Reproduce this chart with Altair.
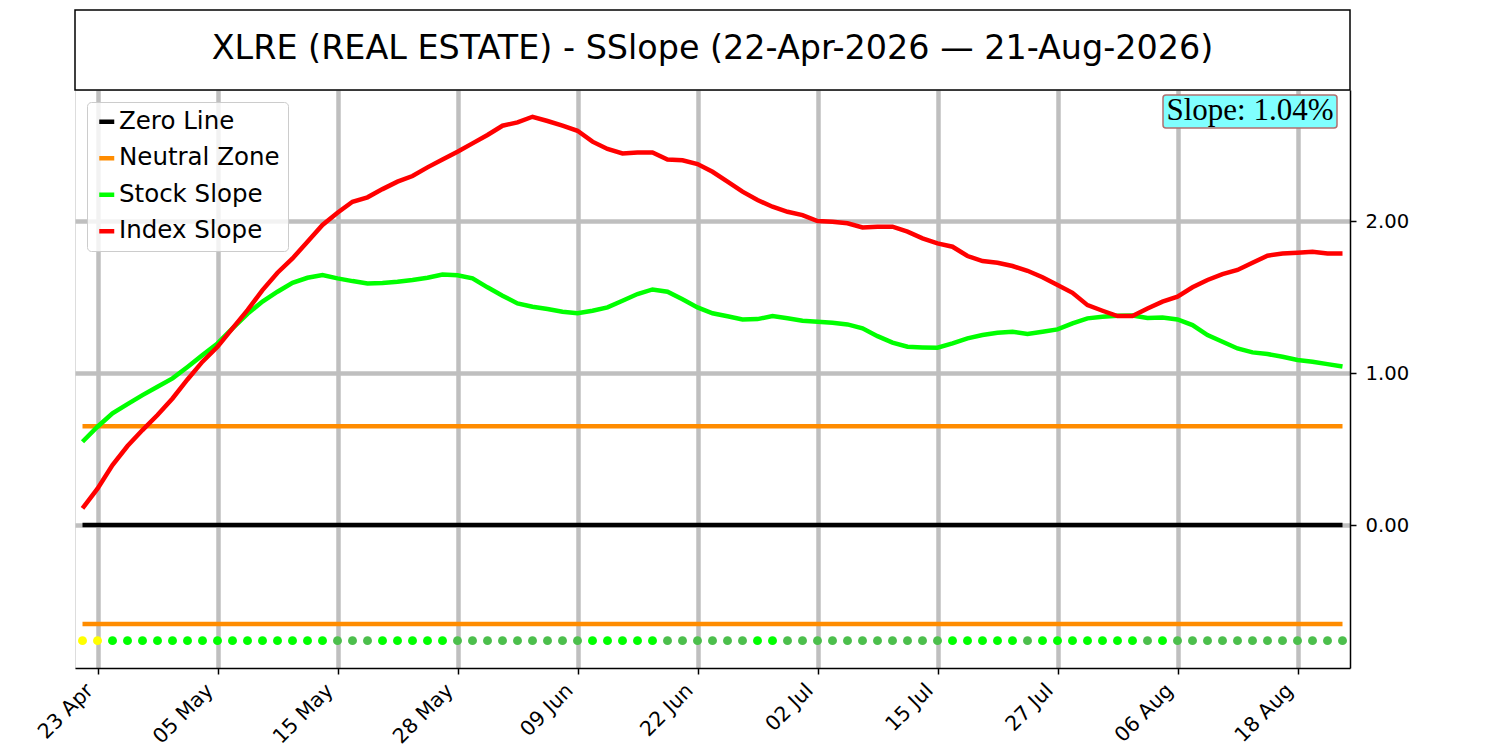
import altair as alt
import pandas as pd

# ---------------- data ----------------
TITLE = "XLRE (REAL ESTATE) - SSlope (22-Apr-2026 — 21-Aug-2026)"
SLOPE_LABEL = "Slope: 1.04%"

stock_slope = [
    0.548, 0.647, 0.735, 0.796, 0.855, 0.910, 0.965, 1.040, 1.118, 1.195,
    1.294, 1.390, 1.470, 1.535, 1.594, 1.627, 1.645, 1.623, 1.605, 1.590,
    1.592, 1.600, 1.612, 1.627, 1.648, 1.643, 1.623, 1.564, 1.509, 1.458,
    1.436, 1.421, 1.403, 1.393, 1.410, 1.432, 1.476, 1.520, 1.550, 1.535,
    1.485, 1.432, 1.393, 1.374, 1.353, 1.355, 1.375, 1.360, 1.344, 1.338,
    1.331, 1.320, 1.294, 1.243, 1.200, 1.173, 1.169, 1.167, 1.195, 1.228,
    1.250, 1.265, 1.272, 1.257, 1.272, 1.287, 1.327, 1.360, 1.371, 1.377,
    1.379, 1.362, 1.366, 1.353, 1.316, 1.250, 1.206, 1.162, 1.136, 1.125,
    1.107, 1.086, 1.075, 1.059, 1.043,
]

index_slope = [
    0.110, 0.240, 0.395, 0.520, 0.625, 0.724, 0.833, 0.958, 1.075, 1.173,
    1.294, 1.414, 1.546, 1.660, 1.754, 1.864, 1.974, 2.055, 2.127, 2.156,
    2.210, 2.259, 2.296, 2.353, 2.405, 2.456, 2.511, 2.566, 2.627, 2.649,
    2.686, 2.658, 2.627, 2.594, 2.522, 2.474, 2.445, 2.451, 2.451, 2.405,
    2.400, 2.375, 2.324, 2.260, 2.193, 2.138, 2.094, 2.061, 2.039, 2.000,
    1.995, 1.985, 1.958, 1.963, 1.963, 1.930, 1.886, 1.853, 1.831, 1.770,
    1.737, 1.726, 1.704, 1.673, 1.630, 1.579, 1.528, 1.447, 1.410, 1.375,
    1.375, 1.425, 1.470, 1.502, 1.564, 1.612, 1.651, 1.678, 1.726, 1.772,
    1.787, 1.792, 1.798, 1.787, 1.787,
]

# state of each day's marker: N = neutral, U = rising, D = falling
dot_state = (
    ["N"] * 2 + ["U"] * 15 + ["D"] * 3 + ["U"] * 5 + ["D"] * 9 + ["U"] * 5
    + ["D"] * 6 + ["U"] * 2 + ["D"] * 11 + ["U"] * 5 + ["D"] * 1 + ["U"] * 7
    + ["D"] * 1 + ["U"] * 1 + ["D"] * 12
)

tick_idx = [1, 9, 17, 25, 33, 41, 49, 57, 65, 73, 81]
tick_labels = ["23 Apr", "05 May", "15 May", "28 May", "09 Jun", "22 Jun",
               "02 Jul", "15 Jul", "27 Jul", "06 Aug", "18 Aug"]
y_ticks = [0, 1, 2]

zero_level = 0.0
neutral_band = 0.65
dot_level = -0.76
x_domain = [-0.5, 84.5]
y_domain = [-0.94, 2.862]

series_names = ["Zero Line", "Neutral Zone", "Stock Slope", "Index Slope"]
series_colors = ["#000000", "#ff8c00", "#00ff00", "#ff0000"]
state_names = ["N", "U", "D"]
state_colors = ["#ffff00", "#00ff00", "#4cbf4c"]

# ---------------- frames ----------------
n = len(stock_slope)
idx = list(range(n))
lines_df = pd.DataFrame({
    "idx": idx * 2,
    "value": stock_slope + index_slope,
    "series": ["Stock Slope"] * n + ["Index Slope"] * n,
})
rules_df = pd.DataFrame({
    "x0": [0, 0, 0],
    "x1": [n - 1, n - 1, n - 1],
    "value": [zero_level, neutral_band, -neutral_band],
    "series": ["Zero Line", "Neutral Zone", "Neutral Zone"],
})
dots_df = pd.DataFrame({"idx": idx, "value": [dot_level] * n, "state": dot_state})
one = pd.DataFrame({"k": [0]})

W, H = 1275, 578

x_scale = alt.Scale(domain=x_domain, nice=False, zero=False)
y_scale = alt.Scale(domain=y_domain, nice=False, zero=False)

label_expr = (
    "[" + ",".join(f"'{l}'" for l in tick_labels) + "]"
    + "[indexof([" + ",".join(str(i) for i in tick_idx) + "], datum.value)]"
)

x_axis = alt.Axis(
    values=tick_idx, labelExpr=label_expr, labelAngle=315, labelAlign="right",
    labelBaseline="top", labelOffset=-15, labelPadding=6, labelFontSize=20.5,
    labelOverlap=False, title=None, tickSize=6, tickWidth=1.5, tickColor="black",
    domainColor="black", domainWidth=1.5, gridColor="#bfbfbf", gridWidth=4.5,
    labelColor="black",
)
y_axis = alt.Axis(
    orient="right", values=y_ticks, format=".2f", labelFontSize=19.6,
    labelPadding=9, title=None, tickSize=6, tickWidth=1.5, tickColor="black",
    domainColor="black", domainWidth=1.5, gridColor="#bfbfbf", gridWidth=4.5,
    labelColor="black",
)

color_scale = alt.Scale(domain=series_names, range=series_colors)
legend = alt.Legend(
    title=None, orient="none", legendX=12, legendY=12, symbolType="stroke",
    symbolSize=225, symbolStrokeWidth=4.5, labelFontSize=24.5, labelFont="DejaVu Sans",
    rowPadding=11.5, padding=7.5, fillColor="rgba(255,255,255,0.8)",
    strokeColor="#cccccc", cornerRadius=4, labelOffset=0, labelColor="black",
    labelLimit=400,
)

dots = alt.Chart(dots_df).mark_circle(size=80, opacity=1, strokeWidth=0).encode(
    x=alt.X("idx:Q", scale=x_scale, axis=x_axis),
    y=alt.Y("value:Q", scale=y_scale, axis=y_axis),
    fill=alt.Fill("state:N", scale=alt.Scale(domain=state_names, range=state_colors), legend=None),
)

rules = alt.Chart(rules_df).mark_rule(strokeWidth=4.5).encode(
    x=alt.X("x0:Q", scale=x_scale),
    x2="x1:Q",
    y=alt.Y("value:Q", scale=y_scale),
    color=alt.Color("series:N", scale=color_scale, legend=legend),
)

stock_line = alt.Chart(lines_df).transform_filter(
    alt.datum.series == "Stock Slope"
).mark_line(strokeWidth=4.5).encode(
    x=alt.X("idx:Q", scale=x_scale),
    y=alt.Y("value:Q", scale=y_scale),
    color=alt.Color("series:N", scale=color_scale, legend=legend),
)
index_line = alt.Chart(lines_df).transform_filter(
    alt.datum.series == "Index Slope"
).mark_line(strokeWidth=4.5).encode(
    x=alt.X("idx:Q", scale=x_scale),
    y=alt.Y("value:Q", scale=y_scale),
    color=alt.Color("series:N", scale=color_scale, legend=legend),
)

title_box = alt.Chart(one).mark_rect(fillOpacity=0, stroke="black", strokeWidth=1.5).encode(
    x=alt.value(0), x2=alt.value(W), y=alt.value(-80), y2=alt.value(0),
)
title_text = alt.Chart(one).mark_text(
    text=TITLE, fontSize=33.4, font="DejaVu Sans", align="center",
    baseline="alphabetic", color="black",
).encode(x=alt.value(W / 2), y=alt.value(-31.5))

slope_box = alt.Chart(one).mark_rect(
    fill="#80ffff", stroke="#b07070", strokeWidth=1.5, cornerRadius=3,
).encode(x=alt.value(W - 187), x2=alt.value(W - 13), y=alt.value(5), y2=alt.value(38))
slope_text = alt.Chart(one).mark_text(
    text=SLOPE_LABEL, fontSize=31, font="Liberation Serif", align="center",
    baseline="alphabetic", color="black",
).encode(x=alt.value(W - 100), y=alt.value(29.5))

chart = alt.layer(
    dots, rules, stock_line, index_line, title_box, title_text, slope_box, slope_text
).properties(
    width=W, height=H,
    autosize=alt.AutoSizeParams(type="none"),
    padding={"left": 67, "top": 82, "right": 80, "bottom": 85},
    background="white",
).configure_view(
    stroke="black", strokeWidth=1.5,
).configure(font="DejaVu Sans")

chart.save("out.html", embed_options={"renderer": "svg", "actions": False})
